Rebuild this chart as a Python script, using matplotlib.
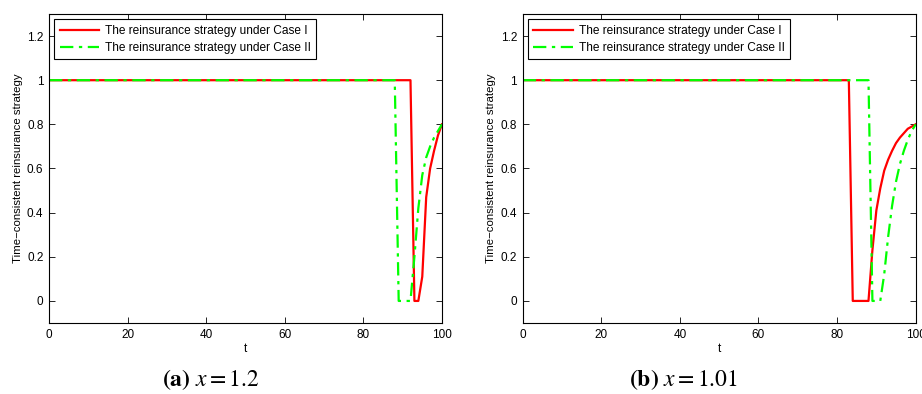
import matplotlib.pyplot as plt

plt.rcParams['font.family'] = ['Liberation Sans', 'DejaVu Sans']
plt.rcParams['mathtext.fontset'] = 'stix'

# panel (a), x = 1.2
t_a1 = [0, 92, 93, 94, 95, 96, 97, 98, 99, 100]
case1_a = [1, 1, 0, 0, 0.11, 0.47, 0.60, 0.68, 0.75, 0.80]
t_a2 = [0, 88, 89, 90, 91, 92, 93, 94, 95, 96, 97, 98, 99, 100]
case2_a = [1, 1, 0, 0, 0, 0, 0.20, 0.42, 0.57, 0.65, 0.70, 0.74, 0.77, 0.80]

# panel (b), x = 1.01
t_b1 = [0, 83, 84, 85, 86, 87, 88, 89, 90, 91, 92, 93, 94, 95, 96, 97, 98, 99, 100]
case1_b = [1, 1, 0, 0, 0, 0, 0, 0.23, 0.41, 0.51, 0.59, 0.64, 0.68, 0.715, 0.74, 0.76, 0.78, 0.79, 0.80]
t_b2 = [0, 88, 89, 90, 91, 92, 93, 94, 95, 96, 97, 98, 99, 100]
case2_b = [1, 1, 0, 0, 0, 0.12, 0.29, 0.43, 0.54, 0.62, 0.68, 0.73, 0.77, 0.80]

xticks = [0, 20, 40, 60, 80, 100]
yticks = [0, 0.2, 0.4, 0.6, 0.8, 1, 1.2]
ytick_labels = ['0', '0.2', '0.4', '0.6', '0.8', '1', '1.2']
legend_labels = ['The reinsurance strategy under Case I',
                 'The reinsurance strategy under Case II']
captions = [r'$\mathbf{(a)}\ x = 1.2$', r'$\mathbf{(b)}\ x = 1.01$']

fig = plt.figure(figsize=(9.22, 3.94), dpi=100)
ax1 = fig.add_axes([0.0531, 0.1802, 0.4262, 0.7843])
ax2 = fig.add_axes([0.5669, 0.1802, 0.4262, 0.7843])

panels = [(ax1, t_a1, case1_a, t_a2, case2_a), (ax2, t_b1, case1_b, t_b2, case2_b)]
for i, (ax, ta, ya, tb, yb) in enumerate(panels):
    ax.plot(ta, ya, color='red', lw=1.6, label=legend_labels[0])
    ax.plot(tb, yb, color=(0, 1, 0), lw=1.6, linestyle='-.', dashes=(6, 2.5, 1.5, 2.5),
            label=legend_labels[1])
    ax.set_xlim(0, 100)
    ax.set_ylim(-0.1, 1.3)
    ax.set_xticks(xticks)
    ax.set_yticks(yticks)
    ax.set_yticklabels(ytick_labels)
    ax.tick_params(direction='in', top=True, right=True, labelsize=8.5, length=4, width=0.6, pad=4)
    for s in ax.spines.values():
        s.set_linewidth(0.8)
    ax.set_xlabel('t', fontsize=8.5, labelpad=2)
    ax.set_ylabel('Time\u2212consistent reinsurance strategy', fontsize=8.2, labelpad=3)
    leg = ax.legend(loc='upper left', fontsize=8.6, frameon=True, fancybox=False,
                    edgecolor='black', framealpha=1, handlelength=3.3, handletextpad=0.5,
                    borderpad=0.45, labelspacing=0.45, borderaxespad=0.45)
    leg.get_frame().set_linewidth(0.8)
    fig.text([0.229, 0.741][i], 0.036, captions[i], fontsize=17, ha='center', va='center')

fig.savefig('out.png', dpi=100)
